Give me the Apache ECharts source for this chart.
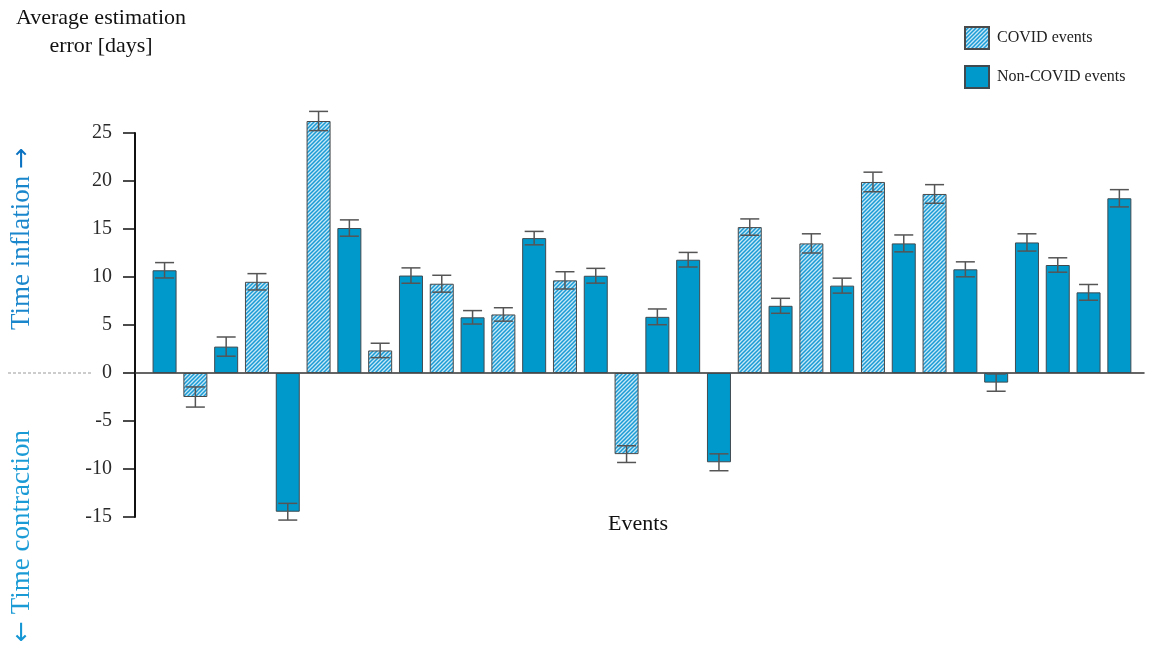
<!DOCTYPE html>
<html>
<head>
<meta charset="utf-8">
<script src="https://cdn.jsdelivr.net/npm/echarts@6/dist/echarts.min.js"></script>
<style>
  html, body { margin: 0; padding: 0; background: #fff; }
  #chart { width: 1154px; height: 656px; }
</style>
</head>
<body>
<div id="chart"></div>
<script>
// Events in plot order (1..32)
const events = [1,2,3,4,5,6,7,8,9,10,11,12,13,14,15,16,17,18,19,20,21,22,23,24,25,26,27,28,29,30,31,32];
// true = COVID event, false = non-COVID event
const isCovid = [false,true,false,true,false,true,false,true,false,true,false,true,false,true,false,true,
                 false,false,false,true,false,true,false,true,false,true,false,false,false,false,false,false];
// Average estimation error [days]
const meanError = [10.7,-2.5,2.75,9.5,-14.45,26.25,15.1,2.35,10.15,9.3,5.8,6.1,14.05,9.65,10.13,-8.45,
                   5.85,11.8,-9.3,15.2,7.0,13.5,9.1,19.9,13.5,18.65,10.8,-1.0,13.6,11.25,8.4,18.2];
// Half-width of the error bars [days]
const errHalf = [0.8,1.05,1.0,0.85,0.87,1.0,0.85,0.75,0.8,0.88,0.7,0.7,0.7,0.9,0.77,0.87,
                 0.82,0.76,0.88,0.85,0.78,1.0,0.78,1.02,0.88,0.97,0.78,0.9,0.9,0.75,0.82,0.9];
const yTicks = { min: -15, max: 25, interval: 5 };

const SERIF = "'Liberation Serif', 'DejaVu Serif', serif";
const BLUE = '#0099cc';

// Diagonal hatch used for the COVID bars
function hatchPattern() {
  const c = document.createElement('canvas');
  c.width = 4; c.height = 4;
  const g = c.getContext('2d');
  g.fillStyle = '#c6e7f6';
  g.fillRect(0, 0, 4, 4);
  g.strokeStyle = '#1a9bd5';
  g.lineWidth = 1.5;
  g.beginPath();
  g.moveTo(-1, 5); g.lineTo(5, -1);
  g.moveTo(-1, 1); g.lineTo(1, -1);
  g.moveTo(3, 5); g.lineTo(5, 3);
  g.stroke();
  return c;
}

const covidData = events.map((e, i) => [i, isCovid[i] ? meanError[i] : null]);
const otherData = events.map((e, i) => [i, isCovid[i] ? null : meanError[i]]);
const errData = events.map((e, i) => [i, meanError[i], errHalf[i]]);

const chart = echarts.init(document.getElementById('chart'), null, { renderer: 'canvas' });

const option = {
  animation: false,
  backgroundColor: '#fff',
  grid: { left: 135, right: 10, top: 133, bottom: 139, containLabel: false },
  legend: {
    orient: 'vertical',
    left: 964,
    top: 26,
    padding: 0,
    itemWidth: 24,
    itemHeight: 22,
    itemGap: 15,
    icon: 'rect',
    textStyle: { fontFamily: SERIF, fontSize: 16, color: '#222', padding: [0, 0, 0, 3] },
    data: ['COVID events', 'Non-COVID events']
  },
  xAxis: {
    type: 'value',
    min: -0.96,
    max: 31.8,
    axisLine: { show: true, onZero: true, lineStyle: { color: '#333', width: 1.5 } },
    axisTick: { show: false },
    axisLabel: { show: false },
    splitLine: { show: false }
  },
  yAxis: {
    type: 'value',
    min: yTicks.min,
    max: yTicks.max,
    interval: yTicks.interval,
    axisLine: { show: true, onZero: false, lineStyle: { color: '#111', width: 2 } },
    axisTick: { show: true, inside: false, length: 12, lineStyle: { color: '#111', width: 1.5 } },
    axisLabel: { fontFamily: SERIF, fontSize: 20, color: '#2a2a2a', margin: 23 },
    splitLine: { show: false }
  },
  series: [
    {
      name: 'COVID events',
      type: 'bar',
      data: covidData,
      barWidth: 24,
      barGap: '-100%',
      clip: false,
      itemStyle: {
        color: { image: hatchPattern(), repeat: 'repeat' },
        borderColor: '#4a4a4a',
        borderWidth: 1
      }
    },
    {
      name: 'Non-COVID events',
      type: 'bar',
      data: otherData,
      barWidth: 24,
      barGap: '-100%',
      clip: false,
      itemStyle: { color: BLUE, borderColor: '#3f4a50', borderWidth: 1 }
    },
    {
      name: 'error',
      type: 'custom',
      clip: false,
      z: 5,
      data: errData,
      renderItem: function (params, api) {
        const x = api.value(0), m = api.value(1), e = api.value(2);
        const top = api.coord([x, m + e]);
        const bot = api.coord([x, m - e]);
        const half = 9.5;
        const style = { stroke: '#555', lineWidth: 1.5, fill: null };
        return {
          type: 'group',
          children: [
            { type: 'line', shape: { x1: top[0], y1: top[1], x2: bot[0], y2: bot[1] }, style },
            { type: 'line', shape: { x1: top[0] - half, y1: top[1], x2: top[0] + half, y2: top[1] }, style },
            { type: 'line', shape: { x1: bot[0] - half, y1: bot[1], x2: bot[0] + half, y2: bot[1] }, style }
          ]
        };
      }
    }
  ]
};
chart.setOption(option);

// Axis annotations, placed from the axis scale
const zero = chart.convertToPixel({ yAxisIndex: 0 }, 0);
const arrowStyle = { fontFamily: "'DejaVu Sans', sans-serif", fontSize: 25 };
chart.setOption({
  graphic: [
    {
      type: 'text', x: 101, y: 4,
      style: {
        text: 'Average estimation\nerror [days]', fontFamily: SERIF, fontSize: 22, lineHeight: 28,
        fill: '#111', align: 'center'
      }
    },
    {
      type: 'line', shape: { x1: 8, y1: zero, x2: 92, y2: zero },
      style: { stroke: '#999', lineWidth: 1, lineDash: [3, 2] }
    },
    {
      type: 'text', x: 22, y: 239, rotation: Math.PI / 2,
      style: {
        text: 'Time inflation {a|\u2192}', fontFamily: SERIF, fontSize: 27, fill: '#1a86cc',
        align: 'center', verticalAlign: 'middle',
        rich: { a: Object.assign({ fill: '#0b72c2' }, arrowStyle) }
      }
    },
    {
      type: 'text', x: 22, y: 536, rotation: Math.PI / 2,
      style: {
        text: '{a|\u2190} Time contraction', fontFamily: SERIF, fontSize: 27, fill: '#1b9bd6',
        align: 'center', verticalAlign: 'middle',
        rich: { a: Object.assign({ fill: '#1496d4' }, arrowStyle) }
      }
    },
    {
      type: 'text', x: 638, y: 524,
      style: {
        text: 'Events', fontFamily: SERIF, fontSize: 22, fill: '#111',
        align: 'center', verticalAlign: 'middle'
      }
    }
  ]
});
</script>
</body>
</html>
